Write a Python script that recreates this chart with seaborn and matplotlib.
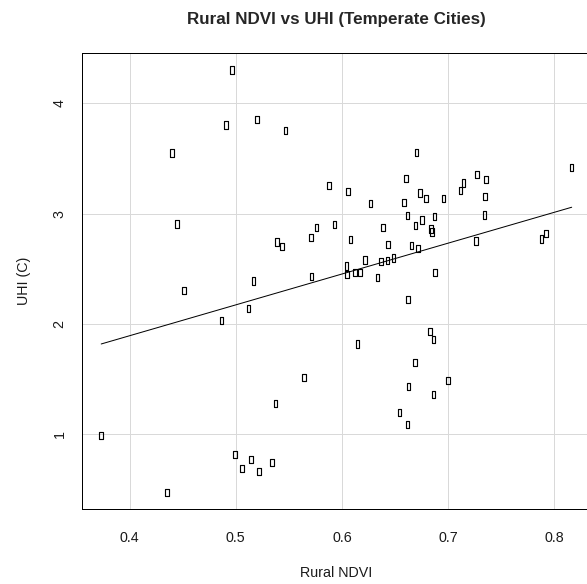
import matplotlib
matplotlib.use("Agg")
import matplotlib.pyplot as plt
import seaborn as sns
import numpy as np
import pandas as pd

rural_ndvi = [
    0.4964, 0.4908, 0.5200, 0.5470, 0.4397, 0.5880, 0.4444, 0.5760, 0.5707, 0.5387,
    0.5434, 0.5168, 0.5713, 0.4513, 0.4864, 0.5118, 0.5644, 0.5375, 0.3733, 0.4990,
    0.5146, 0.5058, 0.5221, 0.5343, 0.4353, 0.6058, 0.5930, 0.6080, 0.6270, 0.6386,
    0.6433, 0.6217, 0.6365, 0.6428, 0.6484, 0.6042, 0.6045, 0.6123, 0.6170, 0.6336,
    0.6875, 0.6604, 0.6700, 0.6734, 0.6790, 0.6584, 0.6957, 0.6618, 0.6872, 0.6756,
    0.6694, 0.6838, 0.6847, 0.6653, 0.6715, 0.7117, 0.7145, 0.7270, 0.7358, 0.7345,
    0.7342, 0.7264, 0.7878, 0.7922, 0.8163, 0.6622, 0.6146, 0.6831, 0.6860, 0.6687,
    0.6997, 0.6628, 0.6863, 0.6540, 0.6616,
]
uhi = [
    4.305, 3.805, 3.851, 3.755, 3.551, 3.257, 2.906, 2.873, 2.782, 2.742,
    2.700, 2.387, 2.427, 2.303, 2.030, 2.139, 1.512, 1.273, 0.987, 0.809,
    0.764, 0.684, 0.660, 0.739, 0.467, 3.200, 2.903, 2.764, 3.094, 2.873,
    2.718, 2.578, 2.563, 2.575, 2.596, 2.524, 2.446, 2.464, 2.467, 2.421,
    2.464, 3.321, 3.555, 3.187, 3.136, 3.100, 3.136, 2.985, 2.973, 2.942,
    2.891, 2.860, 2.833, 2.712, 2.685, 3.206, 3.278, 3.355, 3.309, 3.155,
    2.987, 2.751, 2.769, 2.818, 3.415, 2.221, 1.815, 1.930, 1.857, 1.648,
    1.485, 1.427, 1.355, 1.196, 1.087,
]
x_ticks = [0.4, 0.5, 0.6, 0.7, 0.8]
y_ticks = [1, 2, 3, 4]

df = pd.DataFrame({"Rural NDVI": rural_ndvi, "UHI (C)": uhi})

sns.set_style("white")
plt.rcParams["font.family"] = ["Liberation Sans", "DejaVu Sans"]

W, H = 587, 584
fig = plt.figure(figsize=(W / 72, H / 72), dpi=72)
ax = fig.add_axes([82.4 / W, (H - 509.3) / H, (590.5 - 82.4) / W, (509.3 - 53) / H])

rect = [(-0.5, -1), (0.5, -1), (0.5, 1), (-0.5, 1), (-0.5, -1)]
sns.scatterplot(data=df, x="Rural NDVI", y="UHI (C)", ax=ax, marker=rect, s=52,
                facecolor="none", edgecolor="black", linewidth=1.15, zorder=3)
sns.regplot(data=df, x="Rural NDVI", y="UHI (C)", ax=ax, scatter=False, ci=None,
            truncate=True, line_kws={"color": "black", "lw": 1.0, "zorder": 2})

xr = max(rural_ndvi) - min(rural_ndvi)
yr = max(uhi) - min(uhi)
ax.set_xlim(min(rural_ndvi) - 0.04 * xr, max(rural_ndvi) + 0.04 * xr)
ax.set_ylim(min(uhi) - 0.04 * yr, max(uhi) + 0.04 * yr)

ax.set_xticks(x_ticks)
ax.set_xticklabels([f"{v:.1f}" for v in x_ticks])
ax.set_yticks(y_ticks)
ax.set_yticklabels([str(v) for v in y_ticks], rotation=90, va="center")

ax.grid(True, color="#d9d9d9", lw=1.0, zorder=0)
ax.set_axisbelow(True)
for s in ["left", "bottom", "top", "right"]:
    ax.spines[s].set_color("black")
    ax.spines[s].set_linewidth(1.0)

ax.tick_params(axis="both", direction="out", length=9, width=1, color="black",
               labelsize=14.2, labelcolor="#1a1a1a")
ax.tick_params(axis="x", pad=13)
ax.tick_params(axis="y", pad=7)

ax.set_xlabel("Rural NDVI", fontsize=14.2, labelpad=21, color="#1a1a1a")
ax.set_ylabel("UHI (C)", fontsize=14.2, labelpad=21, color="#1a1a1a")
fig.text(336.6 / W, 1 - 24.0 / H, "Rural NDVI vs UHI (Temperate Cities)",
         ha="center", va="baseline", fontsize=17, fontweight="bold")

fig.savefig("out.png", dpi=72)
